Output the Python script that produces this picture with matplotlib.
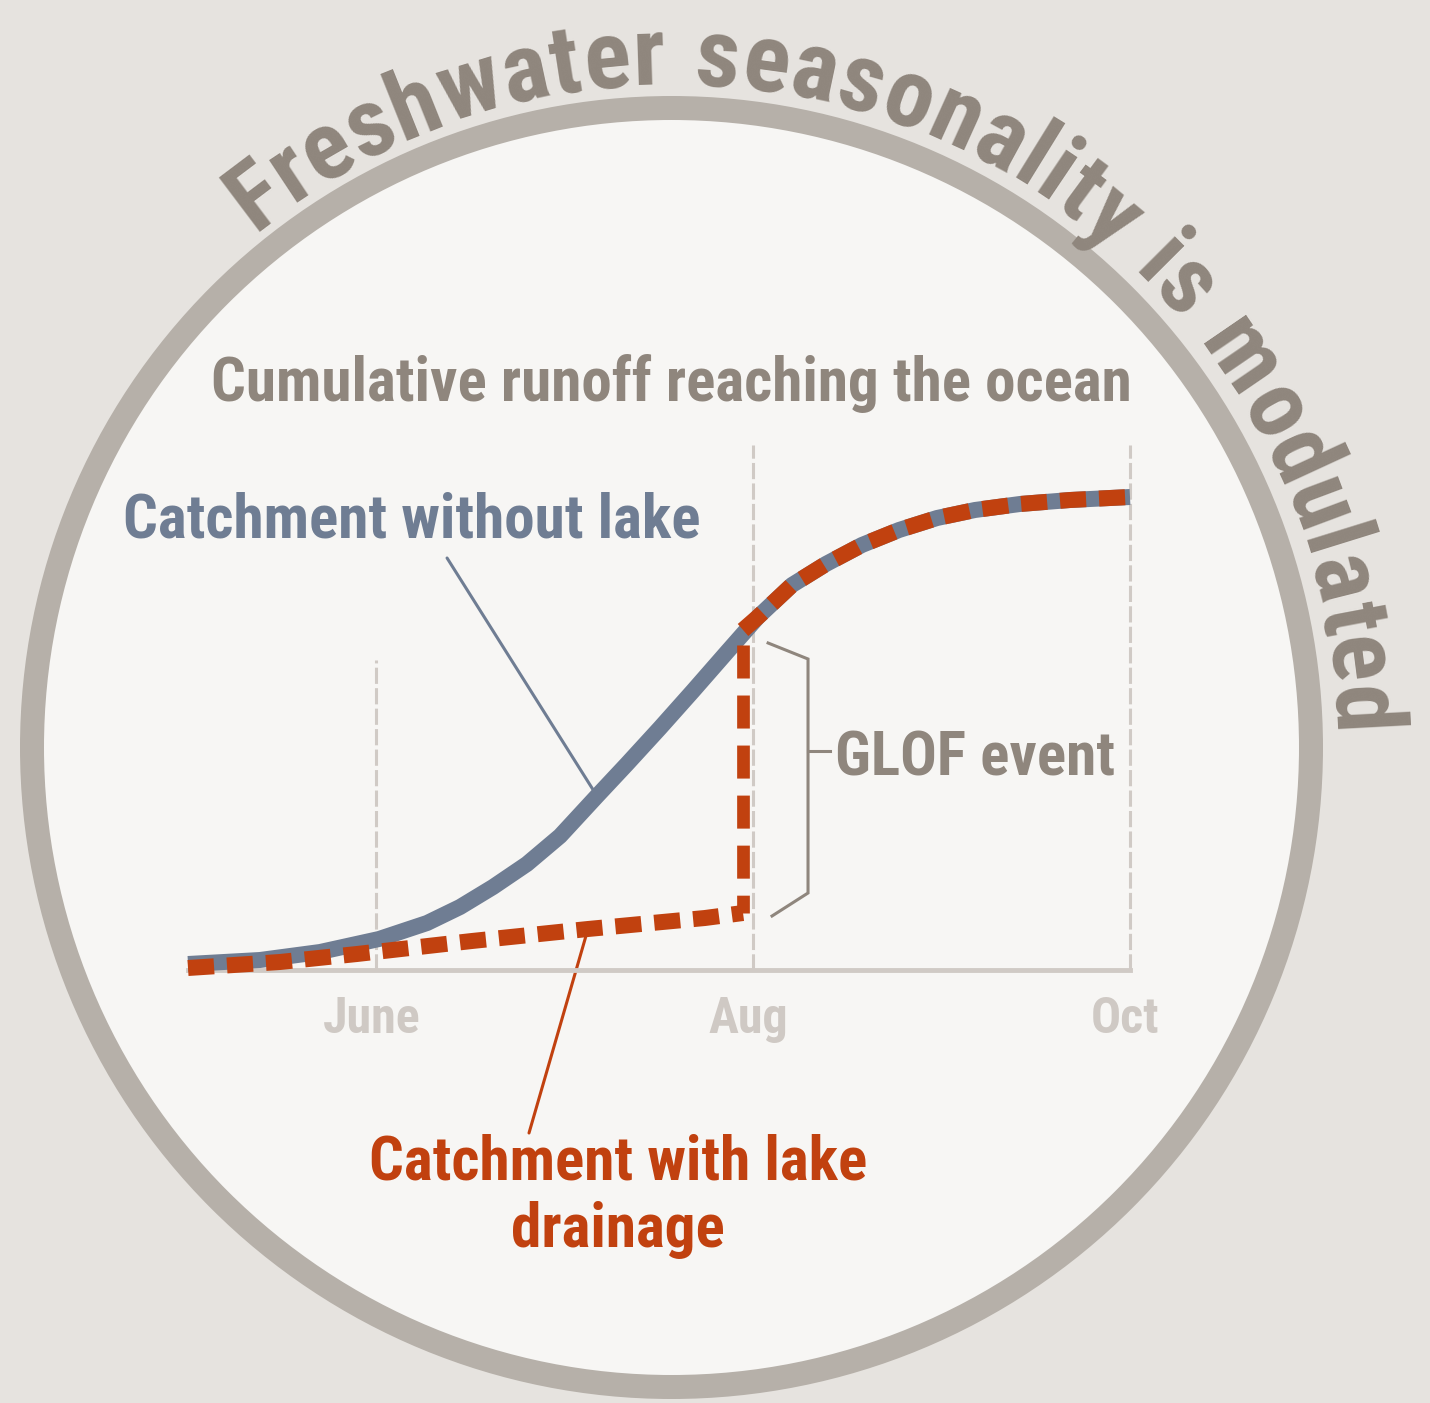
import numpy as np
import matplotlib
matplotlib.use("Agg")
import matplotlib.pyplot as plt
from matplotlib import font_manager
from matplotlib.font_manager import FontProperties
from matplotlib.patches import Circle
from matplotlib.textpath import TextToPath
from matplotlib.transforms import ScaledTranslation

# ---- data (months as numbers: 5 = May ... 10 = Oct) ----
month_pos = [6, 8, 10]
month_labels = ["June", "Aug", "Oct"]

no_lake_x = [5.000, 5.382, 5.701, 6.014, 6.269, 6.444, 6.619, 6.799, 6.975,
             7.171, 7.330, 7.505, 7.680, 7.861, 8.025, 8.206, 8.386, 8.577,
             8.774, 8.976, 9.177, 9.416, 9.682, 10.0]
no_lake_y = [1.2, 2.0, 3.6, 6.2, 9.4, 12.6, 16.6, 21.2, 26.8,
             34.8, 41.2, 48.4, 55.8, 63.6, 70.6, 77.0, 81.2, 85.0,
             88.0, 90.4, 92.0, 93.2, 94.0, 94.6]

# with lake drainage: slow rise, GLOF jump early Aug, then same as above
lake_x = [5.000, 5.488, 5.897, 6.507, 7.123, 7.744, 7.946, 7.946,
          8.025, 8.206, 8.386, 8.577, 8.774, 8.976, 9.177, 9.416, 9.682, 10.0]
lake_y = [0.4, 1.6, 3.2, 5.8, 8.2, 10.4, 11.4, 68.0,
          70.6, 77.0, 81.2, 85.0, 88.0, 90.4, 92.0, 93.2, 94.0, 94.6]
glof_start = 6  # index of the jump

title = "Freshwater seasonality is modulated"
subtitle = "Cumulative runoff reaching the ocean"
label_no_lake = "Catchment without lake"
label_lake = ["Catchment with lake", "drainage"]
label_glof = "GLOF event"

# ---- colours ----
bg_col = "#e6e3df"
ring_col = "#b6b0a9"
inner_col = "#f7f6f4"
grey_txt = "#8f867d"
blue = "#6f7d93"
orange = "#c1410f"
grid_col = "#d0cac5"
tick_col = "#cfc9c4"

names = {f.name for f in font_manager.fontManager.ttflist}
family = "DejaVu Sans"
for cand in ["Liberation Sans Narrow", "Roboto Condensed", "Roboto", "Liberation Sans"]:
    if cand in names:
        family = cand
        break
plt.rcParams["font.family"] = [family, "DejaVu Sans"]
plt.rcParams["font.weight"] = "bold"

W, H, DPI = 1430, 1403, 100
PX = 72 / DPI  # points per pixel
fig = plt.figure(figsize=(W / DPI, H / DPI), dpi=DPI, facecolor=bg_col)

# background axes in pixel coordinates (y down)
bg = fig.add_axes([0, 0, 1, 1])
bg.set_xlim(0, W)
bg.set_ylim(H, 0)
bg.axis("off")

cx, cy = 671.5, 747.5
ring_w = 24
bg.add_patch(Circle((cx, cy), 651.5 - ring_w / 2, facecolor=inner_col,
                    edgecolor=ring_col, linewidth=ring_w * PX))

# curved title along the ring
title_size = 70
fp = FontProperties(family=family, weight="bold", size=title_size)
ttp = TextToPath()


def ink_w(s):
    return ttp.get_text_width_height_descent(s, fp, ismath=False)[0] / PX


em = title_size / PX
adv = [0.26 * em if ch == " " else ink_w(ch) for ch in title]
r_base = 663
theta0 = np.deg2rad(129.0)
theta1 = np.deg2rad(1.0)
arc_len = (theta0 - theta1) * r_base
gap = (arc_len - sum(adv)) / (len(title) - 1)
s = 0.0
for ch, a in zip(title, adv):
    centre = s + a / 2
    s += a + gap
    if ch == " ":
        continue
    th = theta0 - centre / r_base
    x = cx + r_base * np.cos(th)
    y = cy - r_base * np.sin(th)
    bg.text(x, y, ch, fontproperties=fp, color=grey_txt, ha="center",
            va="baseline", rotation=np.rad2deg(th) - 90,
            rotation_mode="anchor")

bg.text(671, 401, subtitle, fontsize=44, color=grey_txt, ha="center",
        va="baseline")
bg.text(123, 537, label_no_lake, fontsize=44, color=blue, ha="left",
        va="baseline")
bg.text(835, 775, label_glof, fontsize=44, color=grey_txt, ha="left",
        va="baseline")
bg.text(618, 1180, label_lake[0], fontsize=44, color=orange, ha="center",
        va="baseline")
bg.text(618, 1247, label_lake[1], fontsize=44, color=orange, ha="center",
        va="baseline")

# ---- chart axes ----
x0, x1 = 188, 1130
y0, y1 = 970, 445
ax = fig.add_axes([x0 / W, (H - y0) / H, (x1 - x0) / W, (y0 - y1) / H])
ax.set_facecolor("none")
ax.set_xlim(5, 10)
ax.set_ylim(0, 105)
for side in ["top", "right", "left"]:
    ax.spines[side].set_visible(False)
ax.spines["bottom"].set_color(grid_col)
ax.spines["bottom"].set_linewidth(3.5)
ax.set_yticks([])
ax.set_xticks(month_pos, month_labels)
ax.tick_params(axis="x", length=0, pad=18.5, labelsize=36, labelcolor=tick_col)
for lab in ax.get_xticklabels():
    lab.set_fontweight("bold")
    lab.set_transform(lab.get_transform() +
                      ScaledTranslation(-5 / DPI, 0, fig.dpi_scale_trans))

grid_top = [62, 105, 105]
for xp, top in zip(month_pos, grid_top):
    ax.plot([xp, xp], [0, top], color=grid_col, lw=2.2,
            dashes=(5.3, 1.4), zorder=1, clip_on=False)

lw_main = 16 * PX
lw_vert = 12.7 * PX
ax.plot(no_lake_x, no_lake_y, color=blue, lw=lw_main, solid_capstyle="butt",
        solid_joinstyle="round", zorder=3, clip_on=False)

# lake drainage line: before the jump, the jump itself, after the jump
j = glof_start
ax.plot(lake_x[:j + 1], lake_y[:j + 1], color=orange, lw=lw_main,
        dashes=(1.63, 0.81), dash_capstyle="butt", dash_joinstyle="round",
        zorder=4, clip_on=False)
ax.plot([lake_x[j + 1], lake_x[j]], [lake_y[j + 1], lake_y[j]], color=orange,
        lw=lw_vert, linestyle=(2.76, (2.6, 1.34)), dash_capstyle="butt",
        zorder=4, clip_on=False)
ax.plot(lake_x[j + 1:], lake_y[j + 1:], color=orange, lw=lw_main,
        dashes=(1.63, 0.81), dash_capstyle="butt", dash_joinstyle="round",
        zorder=4, clip_on=False)

# leader lines
ax.annotate("", xy=(no_lake_x[9], no_lake_y[9]), xytext=(6.375, 82.4),
            arrowprops=dict(arrowstyle="-", color=blue, lw=2.2,
                            shrinkA=0, shrinkB=0), annotation_clip=False,
            zorder=2)
ax.annotate("", xy=(lake_x[4], lake_y[4]), xytext=(6.81, -32.6),
            arrowprops=dict(arrowstyle="-", color=orange, lw=2.2,
                            shrinkA=0, shrinkB=0), annotation_clip=False,
            zorder=2)

# GLOF bracket
jx = lake_x[j]
lo, hi = lake_y[j], lake_y[j + 1]
bx = [jx + 0.133, jx + 0.345, jx + 0.345, jx + 0.154]
by = [hi - 2.6, hi - 5.8, lo + 4.0, lo - 0.6]
ax.plot(bx, by, color=grey_txt, lw=2.2, solid_joinstyle="miter",
        zorder=2, clip_on=False)
mid = (by[1] + by[2]) / 2
ax.plot([jx + 0.345, jx + 0.462], [mid + 5.0, mid + 5.0], color=grey_txt,
        lw=2.2, zorder=2, clip_on=False)

fig.savefig("out.png", dpi=DPI, facecolor=bg_col)
